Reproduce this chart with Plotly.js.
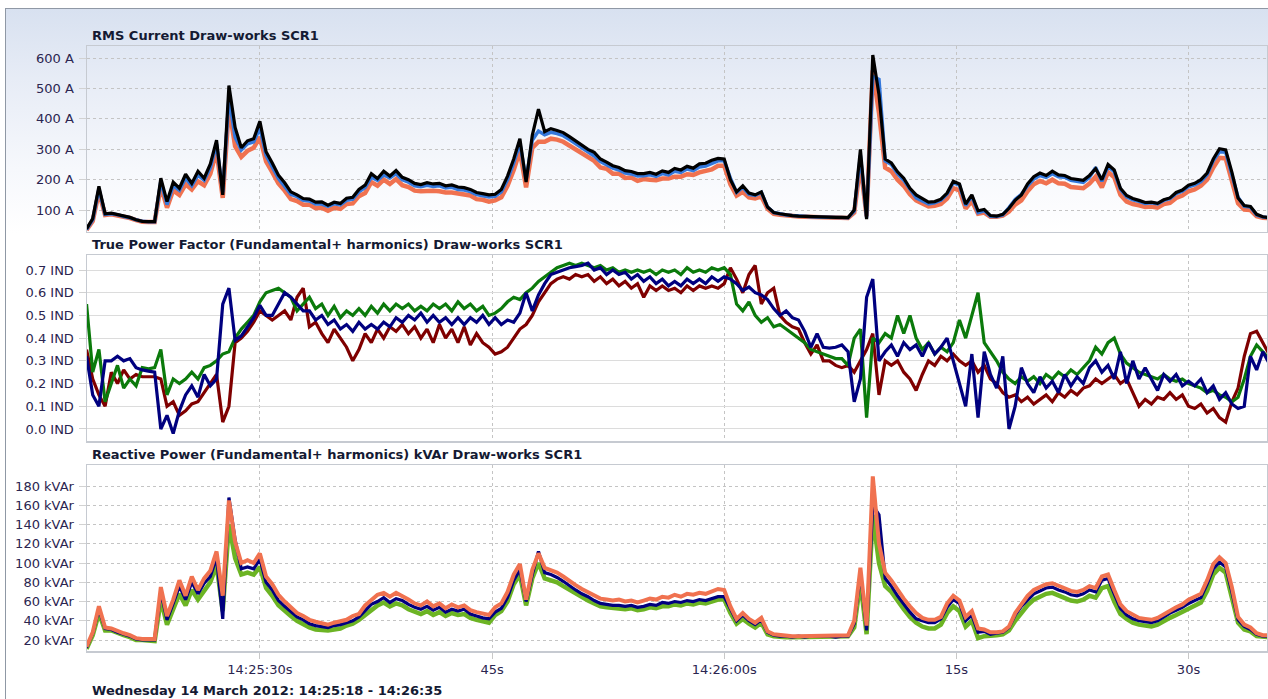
<!DOCTYPE html>
<html>
<head>
<meta charset="utf-8">
<script src="https://cdn.plot.ly/plotly-3.0.1.min.js"></script>
<style>
  html, body { margin:0; padding:0; background:#ffffff; }
  #frame { position:absolute; left:5px; top:8px; width:1263px; height:691px;
           border-top:1px solid #8f98a5; border-left:1px solid #8f98a5;
           background:linear-gradient(to bottom, #d8e1f0 0px, #e7ecf6 70px, #f6f8fc 160px, #ffffff 225px); }
  #chart { position:absolute; left:0; top:0; width:1268px; height:699px; }
</style>
</head>
<body>
<div id="frame"></div>
<div id="chart"></div>
<script>
// Sample clock: seconds after 14:25:00, 0.4 s between samples
const tStart = 18.8, tStep = 0.4;

// X tick labels
const xTickVals = [30, 45, 60, 75, 90];
const xTickText = ['14:25:30s', '45s', '14:26:00s', '15s', '30s'];

// Panel 1: RMS Current (A)
const rmsBlack = [38,72,178,88,90,86,80,76,68,63, 62,62,205,128,192,172,218,188,228,205,
 252,330,150,510,372,305,328,335,392,292, 255,215,190,160,150,138,136,126,127,116,
 126,122,139,142,168,182,220,204,228,212, 230,208,200,188,184,190,186,188,180,183,
 176,174,168,158,154,150,152,168,212,268, 335,192,346,432,358,368,362,355,342,328,
 316,300,290,268,258,246,240,230,227,220, 220,224,218,229,224,237,232,244,238,252,
 254,264,270,268,200,160,180,156,150,160, 110,92,88,84,82,80,79,78,78,77,
 77,76,76,75,100,300,70,610,480,268, 255,226,205,172,150,138,126,128,136,156,
 195,186,120,150,98,102,82,80,86,106, 132,150,186,210,222,214,228,216,214,204,
 200,198,214,236,200,250,232,172,148,138, 132,125,126,122,134,140,158,166,182,188,
 200,222,268,302,298,225,140,115,112,86, 78,75];
const rmsBlue = [36,68,170,86,88,85,79,75,68,63, 62,62,195,118,180,165,205,180,215,198,
 240,318,158,470,340,298,318,325,370,280, 242,204,178,152,144,132,130,120,120,112,
 121,117,132,136,160,174,208,198,216,206, 220,200,192,180,177,182,178,180,173,175,
 168,166,161,151,147,143,145,160,200,255, 320,200,330,360,348,356,352,345,332,318,
 305,290,278,260,250,238,232,222,219,212, 213,216,211,220,216,228,224,235,230,242,
 245,254,262,262,205,158,175,152,148,158, 110,92,87,84,82,80,79,78,77,77,
 76,76,75,75,96,280,75,540,530,262, 250,220,198,168,140,130,120,124,132,152,
 190,182,115,146,92,98,80,79,84,108, 135,152,180,202,214,208,220,210,208,198,
 194,191,208,240,195,244,226,168,144,134, 129,122,124,120,132,138,154,162,177,183,
 194,216,262,292,290,220,142,112,110,84, 77,75];
const rmsOrange = [35,64,160,84,86,83,78,74,67,62, 61,61,180,108,165,150,185,168,195,182,
 220,295,140,440,310,275,295,305,340,260, 225,188,164,136,130,118,118,106,108,98,
 108,104,120,122,146,156,192,180,200,186, 202,182,176,164,162,164,164,162,158,158,
 154,150,148,136,134,128,132,142,180,232, 295,175,305,325,325,335,332,325,312,300,
 288,272,262,240,236,220,220,206,207,196, 202,200,198,204,204,210,210,218,216,224,
 230,234,246,246,185,148,160,142,138,145, 104,88,85,82,80,79,78,77,77,76,
 76,75,75,74,92,250,80,560,420,240, 228,200,180,152,132,122,112,114,120,138,
 172,165,105,130,88,92,78,78,82,95, 118,132,162,185,196,188,200,188,187,176,
 174,172,187,210,175,225,208,150,128,120, 116,110,112,108,120,124,140,148,162,168,
 180,200,240,272,270,198,122,102,100,80, 75,74];
const rmsTicks = [100,200,300,400,500,600];
const rmsTickText = ['100 A','200 A','300 A','400 A','500 A','600 A'];

// Panel 2: True Power Factor (IND)
const pfNavy = [0.32,0.15,0.10,0.30,0.30,0.32,0.30,0.31,0.27,0.26, 0.255,0.25,0.00,0.06,-0.02,0.08,0.15,0.19,0.14,0.24,
 0.19,0.22,0.55,0.62,0.39,0.41,0.45,0.49,0.545,0.50, 0.50,0.55,0.60,0.58,0.55,0.52,0.52,0.48,0.50,0.46,
 0.48,0.44,0.46,0.43,0.47,0.44,0.46,0.44,0.47,0.45, 0.49,0.47,0.50,0.48,0.51,0.47,0.50,0.47,0.49,0.46,
 0.49,0.46,0.49,0.47,0.50,0.46,0.49,0.46,0.48,0.47, 0.51,0.60,0.52,0.59,0.64,0.68,0.69,0.70,0.71,0.715,
 0.72,0.73,0.70,0.71,0.68,0.70,0.68,0.69,0.66,0.68, 0.65,0.67,0.64,0.66,0.63,0.65,0.63,0.66,0.64,0.66,
 0.64,0.67,0.65,0.67,0.66,0.64,0.61,0.625,0.60,0.59, 0.57,0.53,0.50,0.52,0.49,0.48,0.43,0.36,0.42,0.36,
 0.356,0.36,0.37,0.34,0.12,0.22,0.58,0.66,0.30,0.34, 0.37,0.32,0.38,0.35,0.37,0.32,0.38,0.33,0.36,0.40,
 0.30,0.20,0.10,0.33,0.05,0.34,0.24,0.18,0.32,0.00, 0.10,0.27,0.20,0.16,0.23,0.18,0.21,0.16,0.24,0.19,
 0.23,0.20,0.27,0.30,0.25,0.28,0.22,0.34,0.20,0.30, 0.22,0.27,0.22,0.17,0.24,0.21,0.24,0.19,0.21,0.19,
 0.22,0.16,0.19,0.13,0.16,0.11,0.09,0.10,0.32,0.26, 0.34,0.29];
const pfGreen = [0.55,0.25,0.35,0.12,0.20,0.28,0.18,0.22,0.19,0.27, 0.265,0.27,0.35,0.15,0.22,0.20,0.22,0.25,0.22,0.27,
 0.28,0.30,0.33,0.34,0.40,0.44,0.47,0.50,0.56,0.60, 0.61,0.62,0.60,0.58,0.52,0.55,0.58,0.53,0.55,0.50,
 0.54,0.49,0.52,0.50,0.53,0.50,0.54,0.51,0.55,0.52, 0.55,0.53,0.55,0.52,0.54,0.52,0.55,0.53,0.55,0.52,
 0.56,0.53,0.55,0.52,0.54,0.50,0.51,0.53,0.56,0.58, 0.57,0.60,0.62,0.65,0.67,0.69,0.71,0.72,0.73,0.72,
 0.73,0.72,0.71,0.72,0.70,0.71,0.69,0.70,0.69,0.70, 0.69,0.70,0.68,0.70,0.69,0.70,0.68,0.71,0.69,0.70,
 0.69,0.71,0.70,0.71,0.68,0.55,0.52,0.56,0.50,0.47, 0.49,0.45,0.46,0.44,0.42,0.40,0.38,0.35,0.34,0.33,
 0.32,0.31,0.31,0.28,0.40,0.44,0.05,0.40,0.38,0.42, 0.40,0.50,0.42,0.50,0.40,0.35,0.38,0.33,0.36,0.34,
 0.38,0.48,0.40,0.50,0.60,0.38,0.34,0.30,0.25,0.22, 0.20,0.23,0.21,0.23,0.20,0.24,0.22,0.25,0.23,0.26,
 0.24,0.27,0.30,0.36,0.33,0.38,0.40,0.33,0.29,0.27, 0.25,0.24,0.23,0.22,0.24,0.22,0.21,0.22,0.20,0.19,
 0.18,0.16,0.17,0.15,0.14,0.12,0.14,0.22,0.32,0.37, 0.34,0.31];
const pfRed = [0.35,0.22,0.15,0.10,0.25,0.20,0.26,0.22,0.24,0.23, 0.23,0.23,0.22,0.10,0.12,0.06,0.08,0.11,0.12,0.16,
 0.20,0.24,0.03,0.10,0.38,0.40,0.43,0.47,0.52,0.50, 0.48,0.50,0.52,0.48,0.58,0.62,0.45,0.47,0.42,0.38,
 0.44,0.40,0.36,0.30,0.35,0.42,0.38,0.44,0.40,0.45, 0.43,0.46,0.42,0.45,0.40,0.44,0.38,0.46,0.40,0.44,
 0.38,0.45,0.37,0.42,0.38,0.36,0.33,0.34,0.36,0.40, 0.44,0.46,0.50,0.56,0.60,0.64,0.66,0.67,0.66,0.68,
 0.67,0.68,0.65,0.67,0.64,0.66,0.63,0.65,0.62,0.64, 0.58,0.63,0.61,0.63,0.61,0.62,0.60,0.63,0.61,0.63,
 0.62,0.63,0.62,0.64,0.71,0.66,0.60,0.68,0.72,0.55, 0.60,0.62,0.50,0.47,0.45,0.44,0.38,0.33,0.37,0.30,
 0.30,0.28,0.27,0.28,0.25,0.30,0.35,0.42,0.15,0.30, 0.28,0.30,0.25,0.22,0.17,0.24,0.30,0.28,0.32,0.30,
 0.33,0.30,0.28,0.30,0.25,0.28,0.22,0.20,0.16,0.14, 0.15,0.12,0.14,0.11,0.13,0.15,0.12,0.16,0.14,0.17,
 0.15,0.18,0.19,0.22,0.20,0.22,0.24,0.20,0.22,0.16, 0.10,0.13,0.11,0.14,0.13,0.16,0.13,0.15,0.10,0.09,
 0.11,0.07,0.09,0.05,0.03,0.12,0.18,0.32,0.42,0.43, 0.38,0.33];
const pfTicks = [0,0.1,0.2,0.3,0.4,0.5,0.6,0.7];
const pfTickText = ['0.0 IND','0.1 IND','0.2 IND','0.3 IND','0.4 IND','0.5 IND','0.6 IND','0.7 IND'];

// Panel 3: Reactive Power (kVAr)
const kvarOrange = [13,28,55,33,32,29,27,25,22,21, 21,21,75,45,62,82,66,86,72,84,
 92,112,66,165,122,100,103,100,110,86, 78,67,60,54,48,45,41,39,37,36,
 38,40,41,45,47,56,61,67,69,65, 69,66,62,58,56,60,55,58,53,57,
 54,56,51,49,47,46,54,58,70,88, 99,62,93,110,95,93,90,86,81,77,
 73,70,66,63,62,61,62,60,61,59, 61,63,62,65,64,67,65,68,67,69,
 68,71,73,72,55,42,48,42,38,43, 29,26,25,24,24,24,24,24,24,24,
 24,24,24,25,40,95,35,190,120,90, 82,72,63,55,48,43,41,41,44,58,
 66,61,44,50,32,31,28,28,29,34, 48,57,66,72,75,78,79,76,74,71,
 70,72,76,74,86,88,72,57,50,46, 43,42,41,43,47,51,54,57,62,65,
 68,82,99,106,100,75,44,36,33,27, 25,25];
const kvarNavy = [12,27,52,32,31,28,26,24,21,20, 20,20,70,41,58,76,62,80,68,79,
 86,106,42,168,124,94,96,94,104,80, 72,61,55,49,44,41,37,35,34,33,
 35,36,38,40,44,50,57,60,64,59, 63,61,57,54,52,55,51,54,49,52,
 50,52,47,45,43,42,49,53,64,82, 93,60,88,112,90,88,85,81,76,72,
 68,65,61,58,57,56,56,55,56,54, 55,57,56,59,58,60,59,61,60,62,
 61,63,65,65,52,40,46,40,36,41, 28,25,24,24,23,24,23,24,24,24,
 24,23,24,24,37,90,30,160,150,84, 76,66,57,49,42,40,38,38,42,54,
 62,58,40,46,28,29,26,27,28,33, 46,55,62,68,71,74,75,72,70,67,
 66,68,72,70,82,84,68,53,46,42, 40,39,38,40,44,48,51,54,58,61,
 64,78,94,101,96,70,41,34,31,26, 24,24];
const kvarGreen = [11,25,48,30,30,27,25,23,20,20, 19,19,62,36,52,68,56,72,62,72,
 80,98,50,140,105,88,90,88,96,74, 66,56,50,45,40,36,33,31,30,30,
 31,32,35,37,41,46,52,56,59,55, 58,56,52,49,47,50,46,49,45,48,
 46,47,43,41,39,38,46,50,60,78, 88,56,84,100,84,82,80,76,72,68,
 64,61,58,55,54,53,53,52,53,51, 52,54,53,55,55,57,56,58,57,59,
 58,60,62,62,48,37,42,37,33,38, 26,24,23,23,23,23,23,23,23,23,
 23,23,23,24,33,80,26,150,100,76, 70,60,52,44,38,34,32,32,36,48,
 55,50,34,40,22,24,24,25,26,30, 40,48,56,62,65,68,69,66,64,61,
 60,62,66,64,74,76,60,47,42,38, 36,35,34,36,40,43,46,49,53,56,
 59,71,88,95,90,64,38,31,29,24, 23,23];
const kvarTicks = [20,40,60,80,100,120,140,160,180];
const kvarTickText = ['20 kVAr','40 kVAr','60 kVAr','80 kVAr','100 kVAr','120 kVAr','140 kVAr','160 kVAr','180 kVAr'];

// Titles
const titles = [
  'RMS Current Draw-works SCR1',
  'True Power Factor (Fundamental+ harmonics) Draw-works SCR1',
  'Reactive Power (Fundamental+ harmonics) kVAr Draw-works SCR1',
  'Wednesday 14 March 2012: 14:25:18 - 14:26:35'
];

const times = rmsBlack.map((_, i) => +(tStart + i * tStep).toFixed(2));

function line(y, color, width, xa, ya) {
  return { x: times, y: y, type: 'scatter', mode: 'lines', xaxis: xa, yaxis: ya,
           line: { color: color, width: width }, hoverinfo: 'skip' };
}

const traces = [
  line(rmsOrange, '#F07250', 4.5, 'x', 'y'),
  line(rmsBlue, '#3478DC', 3.5, 'x', 'y'),
  line(rmsBlack, '#000000', 3.2, 'x', 'y'),
  line(pfRed, '#7F0000', 3.2, 'x2', 'y2'),
  line(pfGreen, '#0B7A0B', 3.2, 'x2', 'y2'),
  line(pfNavy, '#00007F', 3.2, 'x2', 'y2'),
  line(kvarGreen, '#6CB424', 4.5, 'x3', 'y3'),
  line(kvarNavy, '#00007F', 3.2, 'x3', 'y3'),
  line(kvarOrange, '#F07250', 4.0, 'x3', 'y3')
];

const borderColor = '#c6cad1';
const tickFont = { family: 'DejaVu Sans, Verdana, sans-serif', size: 13, color: '#2b2550' };

function xAxis(anchor, showLabels) {
  return {
    anchor: anchor, domain: [0, 1], range: [18.83, 95.07],
    showgrid: true, gridcolor: '#c4c4c4', griddash: 'dot', gridwidth: 1,
    zeroline: false, showline: true, mirror: true, linecolor: borderColor, linewidth: 1.5,
    tickvals: xTickVals, ticktext: xTickText, showticklabels: showLabels,
    ticks: showLabels ? 'outside' : '', ticklen: 6, tickcolor: '#c8c8c8', tickwidth: 1,
    tickfont: tickFont, fixedrange: true
  };
}
function yAxis(anchor, domain, range, vals, text, dashed) {
  return {
    anchor: anchor, domain: domain, range: range,
    tickvals: vals, ticktext: text, tickfont: tickFont,
    showgrid: true, gridcolor: dashed ? '#c4c4c4' : '#dcdcdc', griddash: dashed ? 'dot' : 'solid', gridwidth: 1,
    zeroline: false, showline: true, mirror: true, linecolor: borderColor, linewidth: 1.5,
    ticks: 'outside', ticklen: 7, tickcolor: '#d2d2d2', tickwidth: 1, ticklabelstandoff: 2,
    fixedrange: true
  };
}

function titleAnn(text, ypix) {
  return { text: '<b>' + text + '</b>', xref: 'paper', yref: 'paper',
           x: 3 / 1181, y: (651 - ypix) / 605, xanchor: 'left', yanchor: 'middle',
           showarrow: false, font: { family: 'DejaVu Sans, Verdana, sans-serif', size: 13, color: '#141a33' } };
}

const layout = {
  width: 1268, height: 699,
  margin: { l: 87, r: 1, t: 46, b: 48, pad: 0 },
  paper_bgcolor: 'rgba(0,0,0,0)', plot_bgcolor: 'rgba(0,0,0,0)',
  showlegend: false,
  font: tickFont,
  xaxis: xAxis('y', false),
  xaxis2: xAxis('y2', false),
  xaxis3: xAxis('y3', true),
  yaxis: yAxis('x', [0.6926, 1], [28, 640], rmsTicks, rmsTickText, true),
  yaxis2: yAxis('x2', [0.3471, 0.6545], [-0.053, 0.766], pfTicks, pfTickText, false),
  yaxis3: yAxis('x3', [0, 0.3074], [8.6, 201.8], kvarTicks, kvarTickText, true),
  annotations: [
    titleAnn(titles[0], 35),
    titleAnn(titles[1], 244),
    titleAnn(titles[2], 454),
    titleAnn(titles[3], 690)
  ]
};

Plotly.newPlot('chart', traces, layout, { displayModeBar: false, staticPlot: true });
</script>
</body>
</html>
